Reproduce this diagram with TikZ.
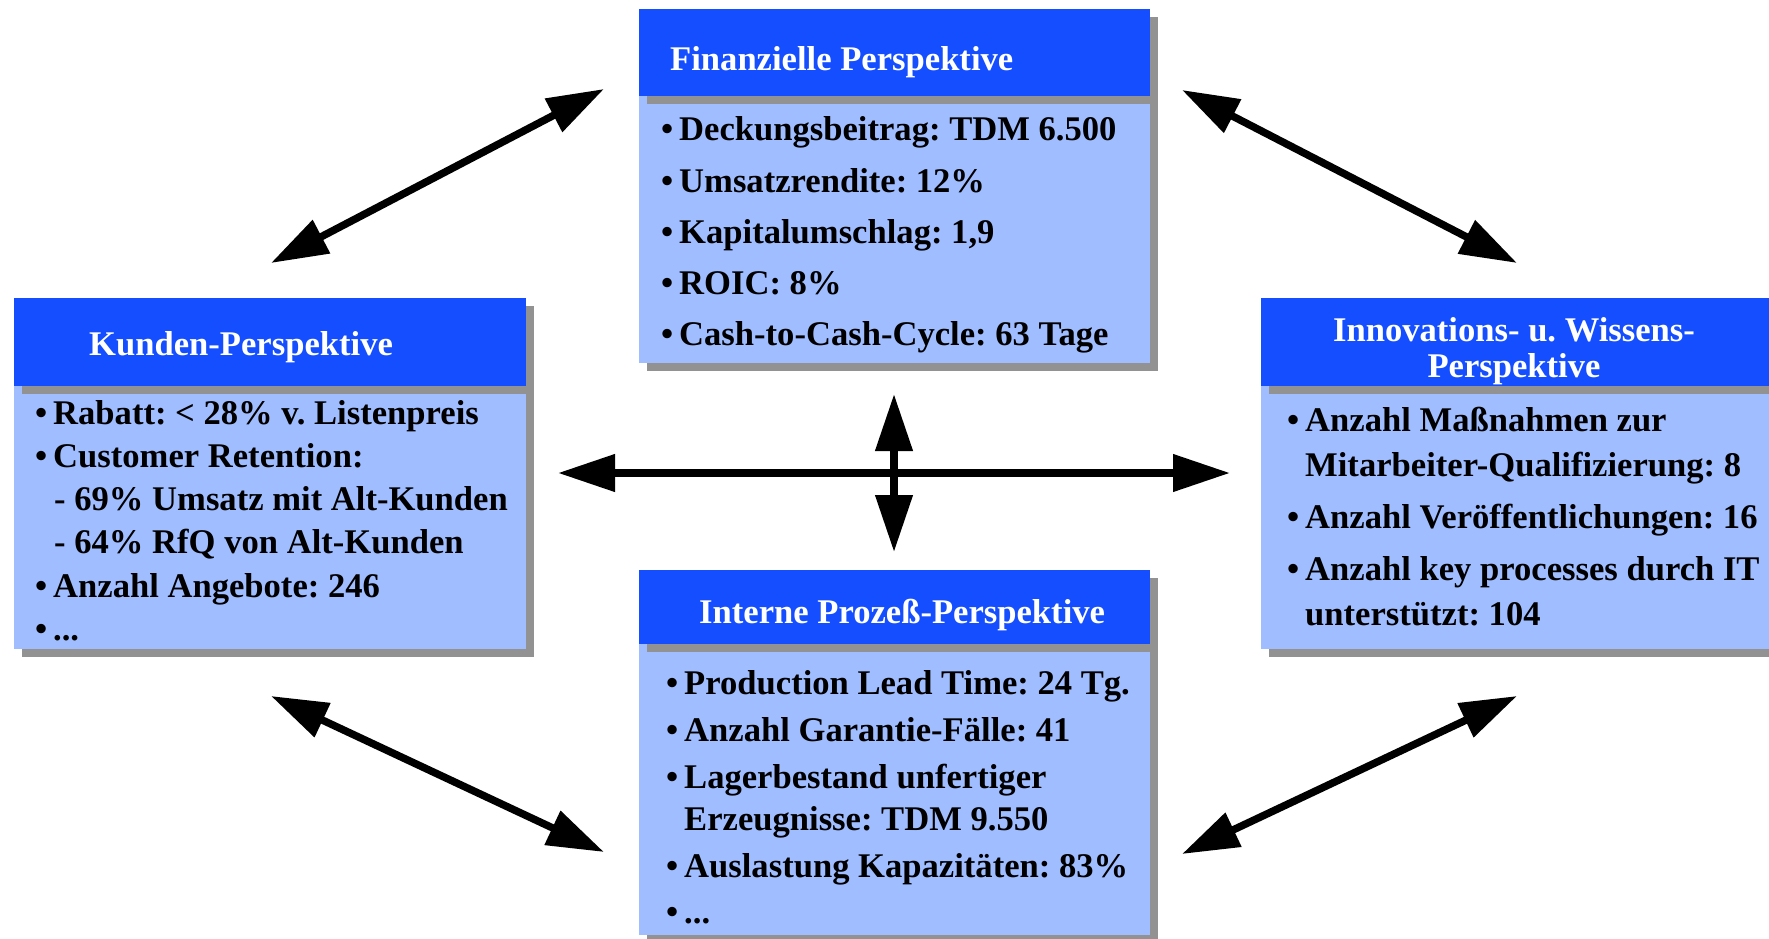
\documentclass[tikz,border=0pt]{standalone}
\usepackage{fontspec}
\setmainfont{Liberation Serif}
\usetikzlibrary{arrows.meta}
\frenchspacing
\definecolor{hdrblue}{RGB}{20,78,255}
\definecolor{bodyblue}{RGB}{160,190,255}
\definecolor{shadowgrey}{RGB}{146,146,146}
\newcommand\bul{\makebox[18pt][l]{•}}
\tikzset{
  txt/.style={anchor=base west, inner sep=0pt, font=\fontsize{34.6}{38}\selectfont\bfseries},
  ttl/.style={txt, text=white},
  ttlc/.style={ttl, anchor=base},
  bodybox/.style={fill=bodyblue, inner sep=0pt, outer sep=0pt, anchor=north west},
  hdrbox/.style={fill=hdrblue, inner sep=0pt, outer sep=0pt, anchor=north west},
  shd/.style={fill=shadowgrey},
  dblarrow/.style={line width=7.5pt, {Triangle[length=57pt,width=36pt]}-{Triangle[length=57pt,width=36pt]}},
}
\begin{document}
\begin{tikzpicture}[x=1pt,y=-1pt]
\useasboundingbox (0,0) rectangle (1769,939);
\clip (0,0) rectangle (1769,939);
\fill[white] (0,0) rectangle (1769,939);

% ---------- Finanzielle Perspektive ----------
\fill[shd] (647,17) rectangle (1158,371);
\node[bodybox, minimum width=511pt, minimum height=267pt] (finB) at (639,96) {};
\fill[shd] (647,96) rectangle (1158,104);
\node[hdrbox, minimum width=511pt, minimum height=87pt] (finH) at (639,9) {};
\node[ttl] (finT) at (670,71) {Finanzielle Perspektive};
\node[txt] (fin1) at (661,140) {\bul Deckungsbeitrag: TDM 6.500};
\node[txt] (fin2) at (661,192) {\bul Umsatzrendite: 12\%};
\node[txt] (fin3) at (661,243) {\bul Kapitalumschlag: 1,9};
\node[txt] (fin4) at (661,294) {\bul ROIC: 8\%};
\node[txt] (fin5) at (661,345) {\bul Cash-to-Cash-Cycle: 63 Tage};

% ---------- Kunden-Perspektive ----------
\fill[shd] (22,306) rectangle (534,657);
\node[bodybox, minimum width=512pt, minimum height=263pt] (kunB) at (14,386) {};
\fill[shd] (22,386) rectangle (534,394);
\node[hdrbox, minimum width=512pt, minimum height=88pt] (kunH) at (14,298) {};
\node[ttl] (kunT) at (89,355) {Kunden-Perspektive};
\node[txt] (kun1) at (35,424) {\bul Rabatt: < 28\% v. Listenpreis};
\node[txt] (kun2) at (35,467) {\bul Customer Retention:};
\node[txt] (kun3) at (54,510) {- 69\% Umsatz mit Alt-Kunden};
\node[txt] (kun4) at (54,553) {- 64\% RfQ von Alt-Kunden};
\node[txt] (kun5) at (35,597) {\bul Anzahl Angebote: 246};
\node[txt] (kun6) at (35,640) {\bul ...};

% ---------- Innovations- u. Wissens-Perspektive ----------
\fill[shd] (1269,306) rectangle (1800,657);
\node[bodybox, minimum width=529pt, minimum height=263pt] (innB) at (1261,386) {};
\fill[shd] (1269,386) rectangle (1800,394);
\node[hdrbox, minimum width=529pt, minimum height=88pt] (innH) at (1261,298) {};
\node[ttlc] (innT1) at (1514,341) {Innovations- u. Wissens-};
\node[ttlc] (innT2) at (1514,377) {Perspektive};
\node[txt] (inn1) at (1287,431) {\bul Anzahl Maßnahmen zur};
\node[txt] (inn2) at (1305,476) {Mitarbeiter-Qualifizierung: 8};
\node[txt] (inn3) at (1287,528) {\bul Anzahl Veröffentlichungen: 16};
\node[txt] (inn4) at (1287,580) {\bul Anzahl key processes durch IT};
\node[txt] (inn5) at (1305,625) {unterstützt: 104};

% ---------- Interne Prozeß-Perspektive ----------
\fill[shd] (647,578) rectangle (1158,943);
\node[bodybox, minimum width=511pt, minimum height=291pt] (intB) at (639,644) {};
\fill[shd] (647,644) rectangle (1158,652);
\node[hdrbox, minimum width=511pt, minimum height=74pt] (intH) at (639,570) {};
\node[ttl] (intT) at (699,623) {Interne Prozeß-Perspektive};
\node[txt] (int1) at (666,694) {\bul Production Lead Time: 24 Tg.};
\node[txt] (int2) at (666,741) {\bul Anzahl Garantie-Fälle: 41};
\node[txt] (int3) at (666,788) {\bul Lagerbestand unfertiger};
\node[txt] (int4) at (684,830) {Erzeugnisse: TDM 9.550};
\node[txt] (int5) at (666,877) {\bul Auslastung Kapazitäten: 83\%};
\node[txt] (int6) at (666,923) {\bul ...};

% ---------- arrow end points ----------
\coordinate (tlK) at (271,263);
\coordinate (tlF) at (604,89);
\coordinate (trF) at (1182,90);
\coordinate (trI) at (1517,263);
\coordinate (blK) at (271,696);
\coordinate (blP) at (604,852);
\coordinate (brI) at (1517,696);
\coordinate (brP) at (1182,854);
\coordinate (hL) at (558,473);
\coordinate (hR) at (1230,473);
\coordinate (vT) at (894,394);
\coordinate (vB) at (894,552);

\draw[dblarrow] (tlK) -- (tlF);
\draw[dblarrow] (trF) -- (trI);
\draw[dblarrow] (blK) -- (blP);
\draw[dblarrow] (brI) -- (brP);
\draw[dblarrow] (hL) -- (hR);
\draw[dblarrow] (vT) -- (vB);
\end{tikzpicture}
\end{document}
